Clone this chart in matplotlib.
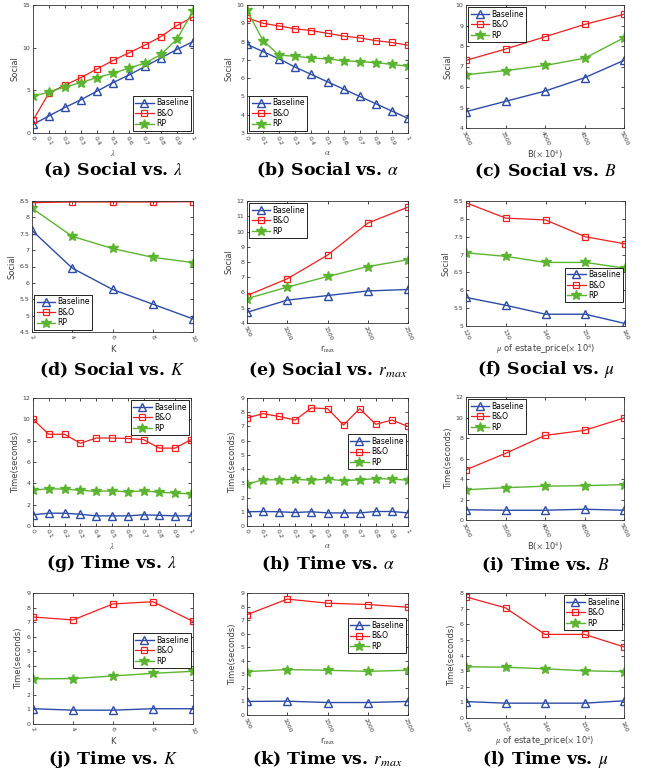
import matplotlib
matplotlib.use('Agg')
import matplotlib.pyplot as plt
import numpy as np

plt.rcParams['mathtext.fontset'] = 'stix'

lam = [0, 0.1, 0.2, 0.3, 0.4, 0.5, 0.6, 0.7, 0.8, 0.9, 1]
lam_labels = ['0', '0.1', '0.2', '0.3', '0.4', '0.5', '0.6', '0.7', '0.8', '0.9', '1']
B_vals = [3000, 3500, 4000, 4500, 5000]
K_vals = [2, 4, 6, 8, 10]
rmax_vals = [500, 1000, 1500, 2000, 2500]
mu_vals = [120, 130, 140, 150, 160]

# Social
soc_lam_base = [1.0, 2.0, 3.0, 3.9, 4.9, 5.9, 6.8, 7.8, 8.8, 9.8, 10.7]
soc_lam_bo = [1.5, 4.7, 5.6, 6.5, 7.5, 8.5, 9.4, 10.3, 11.3, 12.6, 13.6]
soc_lam_rp = [4.3, 4.8, 5.4, 5.9, 6.5, 7.0, 7.6, 8.2, 9.2, 11.0, 14.3]

soc_alpha_base = [7.85, 7.45, 7.05, 6.6, 6.2, 5.8, 5.4, 5.0, 4.6, 4.2, 3.8]
soc_alpha_bo = [9.3, 9.0, 8.85, 8.7, 8.6, 8.45, 8.3, 8.2, 8.05, 7.95, 7.8]
soc_alpha_rp = [9.7, 8.05, 7.25, 7.2, 7.1, 7.05, 6.95, 6.9, 6.85, 6.75, 6.65]

soc_B_base = [4.8, 5.3, 5.8, 6.45, 7.3]
soc_B_bo = [7.3, 7.85, 8.45, 9.05, 9.55]
soc_B_rp = [6.6, 6.8, 7.05, 7.4, 8.4]

soc_K_base = [7.6, 6.45, 5.8, 5.35, 4.9]
soc_K_bo = [8.45, 8.47, 8.47, 8.47, 8.48]
soc_K_rp = [8.28, 7.42, 7.05, 6.78, 6.62]

soc_r_base = [4.7, 5.5, 5.8, 6.1, 6.2]
soc_r_bo = [5.8, 6.9, 8.45, 10.55, 11.6]
soc_r_rp = [5.6, 6.35, 7.05, 7.7, 8.15]

soc_mu_base = [5.8, 5.58, 5.33, 5.33, 5.07]
soc_mu_bo = [8.45, 8.02, 7.97, 7.5, 7.3]
soc_mu_rp = [7.05, 6.95, 6.78, 6.78, 6.62]

# Time
t_lam_base = [1.05, 1.2, 1.2, 1.1, 0.95, 0.95, 0.95, 1.05, 1.0, 0.95, 0.95]
t_lam_bo = [10.0, 8.6, 8.6, 7.75, 8.25, 8.25, 8.2, 8.1, 7.3, 7.3, 8.1]
t_lam_rp = [3.35, 3.5, 3.45, 3.35, 3.25, 3.3, 3.2, 3.3, 3.15, 3.1, 3.0]

t_alpha_base = [1.0, 1.02, 1.0, 0.95, 1.0, 0.92, 0.92, 0.92, 1.02, 1.02, 0.92]
t_alpha_bo = [7.6, 7.9, 7.7, 7.45, 8.3, 8.25, 7.1, 8.25, 7.15, 7.45, 7.0]
t_alpha_rp = [2.95, 3.25, 3.25, 3.28, 3.22, 3.3, 3.18, 3.25, 3.33, 3.3, 3.22]

t_B_base = [1.0, 0.95, 0.95, 1.05, 0.95]
t_B_bo = [4.9, 6.5, 8.25, 8.75, 9.95]
t_B_rp = [2.95, 3.15, 3.3, 3.35, 3.45]

t_K_base = [1.05, 0.95, 0.95, 1.05, 1.05]
t_K_bo = [7.35, 7.15, 8.25, 8.4, 7.05]
t_K_rp = [3.1, 3.12, 3.3, 3.48, 3.62]

t_r_base = [1.0, 1.02, 0.92, 0.92, 1.0]
t_r_bo = [7.4, 8.55, 8.25, 8.15, 7.95]
t_r_rp = [3.2, 3.35, 3.3, 3.22, 3.3]

t_mu_base = [1.05, 0.95, 0.95, 0.95, 1.1]
t_mu_bo = [7.75, 7.05, 5.35, 5.35, 4.55]
t_mu_rp = [3.28, 3.25, 3.15, 3.02, 2.97]

BLUE = '#2c4ca8'
RED = '#f01e1e'
GREEN = '#5cb531'
GRAY = '#404040'

W, H = 646, 775
fig = plt.figure(figsize=(W / 100, H / 100), dpi=100)


def box(l, t, r, b):
    return [l / W, 1 - b / H, (r - l) / W, (b - t) / H]


# panel definitions: pixel box, x, xticklabels, xlabel, ylabel, yticks, series, legend, caption, caption y
panels = [
    (box(33, 5, 193, 133), lam, lam_labels, r'$\lambda$', 'Social', np.arange(0, 16, 5),
     (soc_lam_base, soc_lam_bo, soc_lam_rp), dict(loc='lower right'), r'(a) Social vs. $\lambda$', 170),
    (box(247, 5, 408, 133), lam, lam_labels, r'$\alpha$', 'Social', np.arange(3, 11, 1),
     (soc_alpha_base, soc_alpha_bo, soc_alpha_rp), dict(loc='lower left'), r'(b) Social vs. $\alpha$', 170),
    (box(466, 5, 624, 128), B_vals, None, r'B($\times$ 10$^4$)', 'Social', np.arange(4, 11, 1),
     (soc_B_base, soc_B_bo, soc_B_rp), dict(loc='upper left'), r'(c) Social vs. $B$', 171),
    (box(32, 201, 193, 332), K_vals, None, 'K', 'Social', np.arange(4.5, 8.6, 0.5),
     (soc_K_base, soc_K_bo, soc_K_rp), dict(loc='lower left'), r'(d) Social vs. $K$', 370),
    (box(247, 201, 408, 323), rmax_vals, None, r'r$_{\rm max}$', 'Social', np.arange(4, 13, 1),
     (soc_r_base, soc_r_bo, soc_r_rp), dict(loc='upper left'), r'(e) Social vs. $r_{max}$', 370),
    (box(466, 201, 625, 326), mu_vals, None, r'$\mu$ of estate_price($\times$ 10$^4$)', 'Social',
     np.arange(5, 8.6, 0.5), (soc_mu_base, soc_mu_bo, soc_mu_rp),
     dict(loc='lower right', bbox_to_anchor=(1.0, 0.17)), r'(f) Social vs. $\mu$', 370),
    (box(33, 398, 191, 526), lam, lam_labels, r'$\lambda$', 'Time(seconds)', np.arange(0, 13, 2),
     (t_lam_base, t_lam_bo, t_lam_rp), dict(loc='upper right'), r'(g) Time vs. $\lambda$', 564),
    (box(247, 398, 408, 526), lam, lam_labels, r'$\alpha$', 'Time(seconds)', np.arange(0, 10, 1),
     (t_alpha_base, t_alpha_bo, t_alpha_rp), dict(loc='center right', bbox_to_anchor=(1.0, 0.58)),
     r'(h) Time vs. $\alpha$', 564),
    (box(466, 397, 624, 520), B_vals, None, r'B($\times$ 10$^4$)', 'Time(seconds)', np.arange(0, 13, 2),
     (t_B_base, t_B_bo, t_B_rp), dict(loc='upper left'), r'(i) Time vs. $B$', 565),
    (box(33, 593, 193, 724), K_vals, None, 'K', 'Time(seconds)', np.arange(0, 10, 1),
     (t_K_base, t_K_bo, t_K_rp), dict(loc='center right', bbox_to_anchor=(1.0, 0.56)),
     r'(j) Time vs. $K$', 759),
    (box(247, 593, 408, 715), rmax_vals, None, r'r$_{\rm max}$', 'Time(seconds)', np.arange(0, 10, 1),
     (t_r_base, t_r_bo, t_r_rp), dict(loc='center right', bbox_to_anchor=(1.0, 0.65)),
     r'(k) Time vs. $r_{max}$', 759),
    (box(466, 593, 624, 718), mu_vals, None, r'$\mu$ of estate_price($\times$ 10$^4$)', 'Time(seconds)',
     np.arange(0, 9, 1), (t_mu_base, t_mu_bo, t_mu_rp), dict(loc='upper right'),
     r'(l) Time vs. $\mu$', 759),
]

for rect, x, xlabels, xlabel, ylabel, yticks, (base, bo, rp), leg, caption, cap_y in panels:
    ax = fig.add_axes(rect)
    ax.plot(x, base, color=BLUE, marker='^', markersize=6, markerfacecolor='none',
            markeredgewidth=1.0, linewidth=1.0, label='Baseline')
    ax.plot(x, bo, color=RED, marker='s', markersize=5, markerfacecolor='none',
            markeredgewidth=0.9, linewidth=0.9, label='B&O')
    ax.plot(x, rp, color=GREEN, marker='*', markersize=7, linewidth=1.0, label='RP')

    ax.set_xlim(x[0], x[-1])
    ax.set_ylim(yticks[0], yticks[-1])
    ax.set_xticks(x)
    if xlabels is not None:
        ax.set_xticklabels(xlabels)
    ax.set_yticks(yticks)
    ax.set_yticklabels([('%g' % v) for v in yticks])

    ax.tick_params(direction='in', top=True, right=True, length=2.5, width=0.5,
                   labelsize=4.5, labelcolor=GRAY, pad=2)
    for lbl in ax.get_xticklabels():
        lbl.set_rotation(-65)
        lbl.set_ha('center')
    for sp in ax.spines.values():
        sp.set_linewidth(0.6)
        sp.set_color('#333333')
    ax.set_xlabel(xlabel, fontsize=6, color=GRAY, labelpad=1)
    ax.set_ylabel(ylabel, fontsize=6, color=GRAY, labelpad=2)

    lg = ax.legend(fontsize=5.5, frameon=True, fancybox=False, framealpha=1,
                   edgecolor='black', borderpad=0.3, labelspacing=0.2,
                   handlelength=2.4, handletextpad=0.3, borderaxespad=0.3, **leg)
    lg.get_frame().set_linewidth(0.6)

    fig.text(rect[0] + rect[2] / 2, 1 - cap_y / H, caption, ha='center', va='center',
             fontsize=12.5, fontweight='bold', family='DejaVu Serif')

fig.savefig('out.png', dpi=100)
